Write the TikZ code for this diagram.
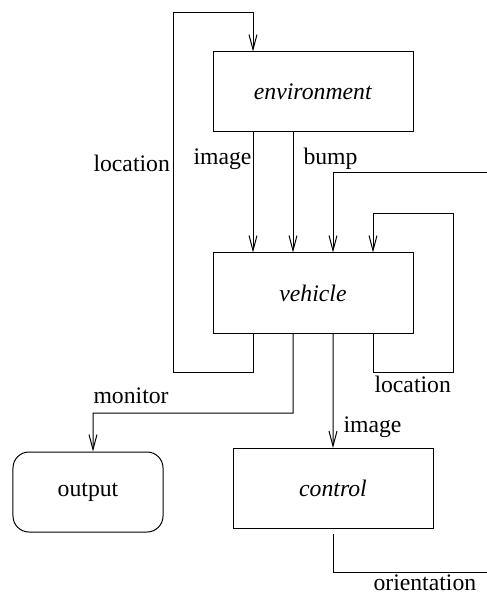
\documentclass[tikz,border=0pt]{standalone}
\usepackage{fontspec}
\setmainfont{Liberation Serif}
\usetikzlibrary{arrows.meta}
\begin{document}
\begin{tikzpicture}[x=0.5bp,y=-0.5bp,line width=0.5bp,
  font=\fontsize{11.9}{14}\selectfont,
  blk/.style={draw, minimum width=100bp, minimum height=40bp, inner sep=0pt},
  flow/.style={-{Straight Barb[length=7.5bp,width=4bp]}},
  lbl/.style={anchor=base west, inner sep=0pt}]
\useasboundingbox (0,0) rectangle (487,598);
\node[blk] (env) at (313,92) {\textit{environment}};
\node[blk] (vehicle) at (313,293) {\textit{vehicle}};
\node[blk] (control) at (333,488.5) {\textit{control}\hspace{16bp}};
\node[draw, rounded corners=8bp, minimum width=75bp, minimum height=40bp, inner sep=0pt] (output) at (88,492) {output};

\coordinate (inR) at (487,173);
\coordinate (outR) at (487,572);
\coordinate (mon) at (93,413);

\path[draw,flow] ([xshift=-30bp]vehicle.south) |- (173,372) -- (173,13) -| ([xshift=-30bp]env.north);
\path[draw,flow] ([xshift=-30bp]env.south) -- ([xshift=-30bp]vehicle.north);
\path[draw,flow] ([xshift=-10bp]env.south) -- ([xshift=-10bp]vehicle.north);
\path[draw,flow] (inR) -| ([xshift=10bp]vehicle.north);
\path[draw,flow] ([xshift=30bp]vehicle.south) |- (453,372) -- (453,213) -| ([xshift=30bp]vehicle.north);
\path[draw,flow] ([xshift=-10bp]vehicle.south) |- (mon) -- ([xshift=2.5bp]output.north);
\path[draw,flow] ([xshift=10bp]vehicle.south) -- (control.north);
\path[draw,-] ([yshift=-2.5bp]control.south) |- (outR);

\node[lbl] at (93,172) {location};
\node[lbl] at (193,165) {image};
\node[lbl] at (303,165) {bump};
\node[lbl] at (374,392) {location};
\node[lbl] at (93,403) {monitor};
\node[lbl] at (343,432) {image};
\node[lbl] at (373,590) {orientation};
\end{tikzpicture}
\end{document}
